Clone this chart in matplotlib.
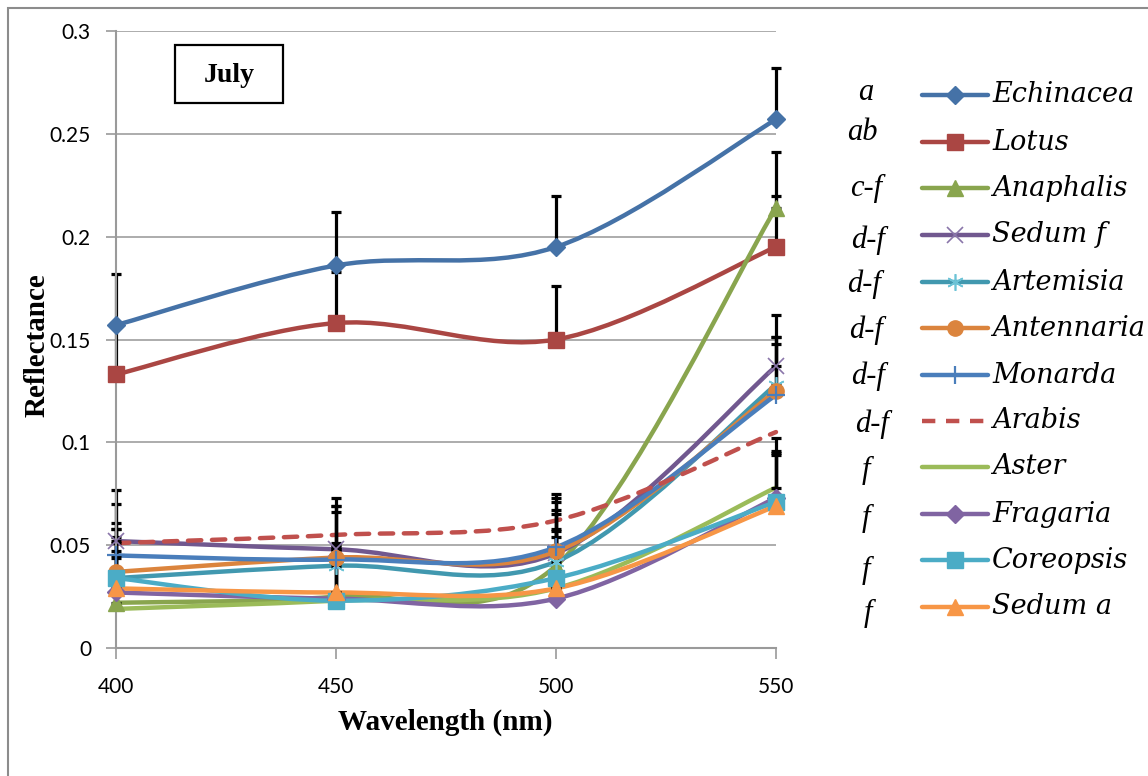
import matplotlib
matplotlib.use("Agg")
import matplotlib.pyplot as plt
from matplotlib.path import Path
from matplotlib.patches import PathPatch, Rectangle
from matplotlib.lines import Line2D
import numpy as np

# ---------------- data ----------------
wavelengths = [400, 450, 500, 550]
species = ["Echinacea", "Lotus", "Anaphalis", "Sedum f", "Artemisia", "Antennaria",
           "Monarda", "Arabis", "Aster", "Fragaria", "Coreopsis", "Sedum a"]
letters = ["a", "ab", "c-f", "d-f", "d-f", "d-f", "d-f", "d-f", "f", "f", "f", "f"]

echinacea = [0.157, 0.186, 0.195, 0.257]
lotus = [0.133, 0.158, 0.150, 0.195]
anaphalis = [0.022, 0.025, 0.040, 0.214]
sedum_f = [0.052, 0.048, 0.046, 0.137]
artemisia = [0.034, 0.040, 0.042, 0.128]
antennaria = [0.037, 0.044, 0.047, 0.125]
monarda = [0.045, 0.043, 0.049, 0.123]
arabis = [0.051, 0.055, 0.062, 0.105]
aster = [0.019, 0.023, 0.029, 0.078]
fragaria = [0.027, 0.024, 0.024, 0.073]
coreopsis = [0.034, 0.023, 0.034, 0.071]
sedum_a = [0.029, 0.027, 0.029, 0.069]

err_echinacea = [0.025, 0.026, 0.025, 0.025]
err_lotus = [0.025, 0.025, 0.026, 0.025]
err_anaphalis = [0.025, 0.025, 0.025, 0.027]
err_sedum_f = [0.025, 0.025, 0.025, 0.025]
err_artemisia = [0.024, 0.026, 0.025, 0.023]
err_antennaria = [0.024, 0.025, 0.026, 0.026]
err_monarda = [0.025, 0.026, 0.026, 0.025]
err_arabis = None
err_aster = [0.025, 0.024, 0.025, 0.024]
err_fragaria = [0.024, 0.025, 0.024, 0.023]
err_coreopsis = [0.024, 0.025, 0.024, 0.024]
err_sedum_a = [0.025, 0.024, 0.028, 0.025]

values = [echinacea, lotus, anaphalis, sedum_f, artemisia, antennaria,
          monarda, arabis, aster, fragaria, coreopsis, sedum_a]
errors = [err_echinacea, err_lotus, err_anaphalis, err_sedum_f, err_artemisia,
          err_antennaria, err_monarda, err_arabis, err_aster, err_fragaria,
          err_coreopsis, err_sedum_a]

y_ticks = [0, 0.05, 0.1, 0.15, 0.2, 0.25, 0.3]
y_ticklabels = ["0", "0.05", "0.1", "0.15", "0.2", "0.25", "0.3"]

# ---------------- styles ----------------
colors = ["#4572A7", "#AA4643", "#89A54E", "#71588F", "#4198AF", "#DB843D",
          "#4A7EBB", "#C0504D", "#9BBB59", "#8064A2", "#4BACC6", "#F79646"]
marker_col = ["#4572A7", "#AA4643", "#89A54E", "#8A76AA", "#6CC3D6", "#DB843D",
              "#4A7EBB", None, None, "#8064A2", "#4BACC6", "#F79646"]
markers = ["D", "s", "^", "x", (6, 2, 0), "o", "+", None, None, "D", "s", "^"]
msizes = [9, 11, 11, 12, 12, 11, 13, 0, 0, 9, 11, 11]
mews = [1, 1, 1, 1.2, 1.2, 1, 1.6, 0, 0, 1, 1, 1]

W, H = 1148, 776
fig = plt.figure(figsize=(W / 100, H / 100), dpi=100)
ax = fig.add_axes([116 / W, 1 - 648 / H, (776 - 116) / W, (648 - 31) / H])

sans = ["Lato", "DejaVu Sans"]
serif = ["Liberation Serif", "DejaVu Serif"]
legend_serif = ["DejaVu Serif"]

ax.set_xlim(400, 550)
ax.set_ylim(0, 0.3)
ax.set_yticks(y_ticks)
ax.set_yticklabels(y_ticklabels, family=sans, fontsize=15)
ax.set_xticks(wavelengths)
ax.set_xticklabels([str(w) for w in wavelengths], family=sans, fontsize=15)
ax.tick_params(axis="y", length=7, width=1.2, color="#9A9A9A", pad=11)
ax.tick_params(axis="x", length=8, width=1.2, color="#9A9A9A", pad=13)
for s in ["top", "right"]:
    ax.spines[s].set_visible(False)
for s in ["left", "bottom"]:
    ax.spines[s].set_color("#9A9A9A")
    ax.spines[s].set_linewidth(1.5)
ax.yaxis.grid(True, color="#A6A6A6", linewidth=1.3)
ax.set_axisbelow(True)


def smooth_path(xs, ys):
    pts = np.column_stack([xs, ys]).astype(float)
    n = len(pts)
    verts = [pts[0]]
    codes = [Path.MOVETO]
    for i in range(n - 1):
        p0 = pts[i - 1] if i > 0 else pts[i]
        p1 = pts[i]
        p2 = pts[i + 1]
        p3 = pts[i + 2] if i + 2 < n else pts[i + 1]
        c1 = p1 + (p2 - p0) / 6.0
        c2 = p2 - (p3 - p1) / 6.0
        verts += [c1, c2, p2]
        codes += [Path.CURVE4] * 3
    return Path(verts, codes)


LW = 3.2
for i, (name, vals, err) in enumerate(zip(species, values, errors)):
    ls = (0, (3, 2.4)) if name == "Arabis" else "-"
    patch = PathPatch(smooth_path(wavelengths, vals), fill=False, edgecolor=colors[i],
                      linewidth=LW, linestyle=ls, capstyle="round", joinstyle="round",
                      zorder=2 + i * 0.01, transform=ax.transData, clip_on=False)
    ax.add_patch(patch)
    if err is not None:
        ax.errorbar(wavelengths, vals, yerr=[np.zeros(len(err)), err], fmt="none",
                    ecolor="black", elinewidth=2.3, capsize=3.5, capthick=2.3,
                    zorder=2.5, clip_on=False)
    if markers[i] is not None:
        ax.plot(wavelengths, vals, linestyle="none", marker=markers[i],
                markersize=msizes[i], color=marker_col[i], markeredgecolor=marker_col[i],
                markeredgewidth=mews[i], zorder=3 + i * 0.01, clip_on=False)

# axis labels
fig.text(445 / W, 1 - 722 / H, "Wavelength (nm)", family=serif, fontweight="bold",
         fontsize=21, ha="center", va="center")
fig.text(37 / W, 1 - 345 / H, "Reflectance", family=serif, fontweight="bold",
         fontsize=21, ha="center", va="center", rotation=90)

# July box
fig.patches.append(Rectangle((175 / W, 1 - 103 / H), (283 - 175) / W, (103 - 45) / H,
                             transform=fig.transFigure, fill=False, edgecolor="black",
                             linewidth=1.6, figure=fig))
fig.text(229 / W, 1 - 76 / H, "July", family=serif, fontweight="bold", fontsize=20,
         ha="center", va="center")

# legend (manual)
row_y = [95, 142, 188, 235, 282, 328, 375, 421, 467, 514, 560, 607]
letter_y = [92, 133, 188, 240, 284, 330, 376, 424, 470, 518, 570, 613]
letter_x = [866, 862, 866, 868, 864, 866, 868, 872, 866, 866, 866, 868]
for i, name in enumerate(species):
    yf = 1 - row_y[i] / H
    ls = (0, (3, 2.4)) if name == "Arabis" else "-"
    fig.lines.append(Line2D([922 / W, 988 / W], [yf, yf], transform=fig.transFigure,
                            color=colors[i], linewidth=LW, linestyle=ls,
                            solid_capstyle="round", figure=fig))
    if markers[i] is not None:
        fig.lines.append(Line2D([955 / W], [yf], transform=fig.transFigure,
                                linestyle="none", marker=markers[i],
                                markersize=msizes[i], color=marker_col[i],
                                markeredgecolor=marker_col[i], markeredgewidth=mews[i],
                                figure=fig))
    fig.text(992 / W, yf, name, family=legend_serif, style="italic", fontsize=19.5,
             ha="left", va="center")
    fig.text(letter_x[i] / W, 1 - letter_y[i] / H, letters[i], family=serif,
             style="italic", fontsize=22, ha="center", va="center")

# outer frame
fig.patches.append(Rectangle((8 / W, -0.05), 1.1, 1 - 8 / H + 0.05,
                             transform=fig.transFigure, fill=False,
                             edgecolor="#8C8C8C", linewidth=1.5, figure=fig))

fig.savefig("out.png", dpi=100)
